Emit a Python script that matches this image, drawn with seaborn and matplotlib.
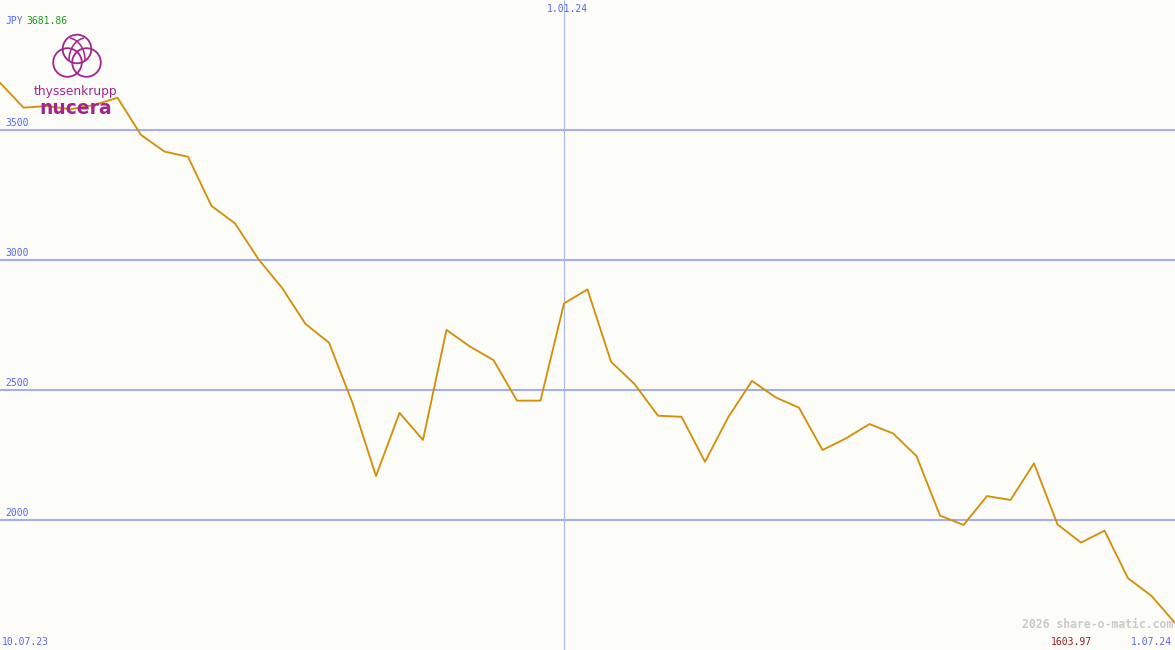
import pandas as pd
import matplotlib
matplotlib.use("Agg")
import matplotlib.pyplot as plt
from matplotlib.patches import Circle, Arc
import seaborn as sns

# weekly closing prices (JPY)
dates = pd.date_range("2023-07-17", "2024-07-01", freq="7D")
prices = [3681.86, 3586, 3592, 3580, 3596, 3624, 3481, 3417, 3397, 3208,
          3141, 3003, 2893, 2754, 2682, 2450, 2169, 2412, 2308, 2731,
          2667, 2615, 2459, 2459, 2833, 2887, 2609, 2523, 2401, 2397,
          2224, 2397, 2535, 2472, 2432, 2269, 2314, 2369, 2333, 2246,
          2017, 1981, 2092, 2077, 2218, 1983, 1913, 1959, 1776, 1708,
          1603.97]
grid_levels = [2000, 2500, 3000, 3500]
max_label = "3681.86"
min_label = "1603.97"
start_label = "10.07.23"
mid_label = "1.01.24"
end_label = "1.07.24"

df = pd.DataFrame({"date": dates, "price": prices})

W, H = 1175, 650
bg = "#fcfdf9"
blue = "#5565f5"
grid_col = "#a3adef"
line_col = "#d4900c"
logo_col = "#a3238f"

sns.set_style("white")
plt.rcParams["font.family"] = ["DejaVu Sans Mono", "DejaVu Sans"]

fig = plt.figure(figsize=(W / 100, H / 100), dpi=100, facecolor=bg)
ax = fig.add_axes([0, 0, 1, 1])
ax.set_facecolor(bg)

# -------------------------
# grid lines
# -------------------------
for g in grid_levels:
    ax.axhline(g, color=grid_col, lw=1.5, zorder=1)
ax.axvline(pd.Timestamp("2024-01-01"), color="#a9b5ee", lw=0.8, zorder=1)

# -------------------------
# price line
# -------------------------
sns.lineplot(data=df, x="date", y="price", color=line_col, lw=1.35, ax=ax, zorder=3)

ax.set_xlim(dates[0], dates[-1])
ax.set_ylim(1500, 4000)
ax.set_axis_off()


def px(x, y):
    return x / W, 1 - y / H


# y labels sit just above their grid line
for g in grid_levels:
    ypix = (4000 - g) / 2500 * H
    fig.text(*px(5, ypix - 2), str(g), color=blue, fontsize=7, va="bottom", ha="left")

fig.text(*px(5, 21), "JPY", color=blue, fontsize=7, va="center", ha="left")
fig.text(*px(26, 21), max_label, color="#1c9a1c", fontsize=7, va="center", ha="left")
fig.text(*px(567, 9), mid_label, color=blue, fontsize=7, va="center", ha="center")
fig.text(*px(2, 642), start_label, color=blue, fontsize=7, va="center", ha="left")
fig.text(*px(1172, 642), end_label, color=blue, fontsize=7, va="center", ha="right")
fig.text(*px(1092, 642), min_label, color="#a01818", fontsize=7, va="center", ha="right")
fig.text(*px(1173, 625), "2026 share-o-matic.com", color="#cacaca", fontsize=8.3,
         fontweight="bold", va="center", ha="right")

# -------------------------
# logo
# -------------------------
lax = fig.add_axes([0, 0, 1, 1], facecolor="none")
lax.set_xlim(0, W)
lax.set_ylim(H, 0)
lax.set_axis_off()
for cx, cy in [(77, 49), (67.5, 62.5), (86.5, 62.5)]:
    lax.add_patch(Circle((cx, cy), 14.3, fill=False, ec=logo_col, lw=1.3, zorder=2))
# inner arches
lax.add_patch(Arc((86, 60), 34, 44, theta1=180, theta2=265, ec=logo_col, lw=1.1))
lax.add_patch(Arc((68, 60), 34, 44, theta1=275, theta2=360, ec=logo_col, lw=1.1))
lax.text(76, 91, "thyssenkrupp", color=logo_col, fontsize=8.8, ha="center", va="center",
         family="DejaVu Sans", zorder=2)
lax.text(76, 108, "nucera", color=logo_col, fontsize=13.5, ha="center", va="center",
         family="DejaVu Sans", fontweight="bold", zorder=2)

fig.savefig("out.png", dpi=100, facecolor=bg)
